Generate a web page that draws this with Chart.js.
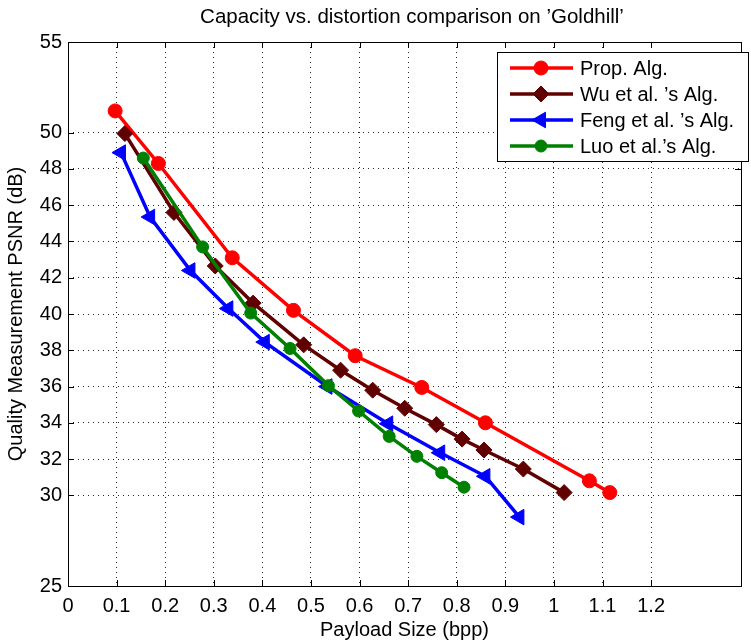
<!DOCTYPE html>
<html>
<head>
<meta charset="utf-8">
<script src="https://cdn.jsdelivr.net/npm/chart.js@4/dist/chart.umd.min.js"></script>
<style>
  html, body { margin: 0; padding: 0; background: #fff; }
</style>
</head>
<body>
<canvas id="chart" width="751" height="644"></canvas>
<script>
// tick labels
const xTicks = [0, 0.1, 0.2, 0.3, 0.4, 0.5, 0.6, 0.7, 0.8, 0.9, 1, 1.1, 1.2];
const yTicks = [25, 30, 32, 34, 36, 38, 40, 42, 44, 46, 48, 50, 55];

// series values
const propX = [0.097, 0.186, 0.338, 0.464, 0.591, 0.728, 0.859, 1.073, 1.115];
const propY = [51.2, 48.3, 43.1, 40.2, 37.7, 35.95, 34.0, 30.8, 30.15];

const wuX = [0.117, 0.218, 0.303, 0.381, 0.485, 0.561, 0.627, 0.693, 0.758, 0.811, 0.856, 0.937, 1.021];
const wuY = [49.95, 45.6, 42.65, 40.6, 38.3, 36.9, 35.8, 34.8, 33.9, 33.1, 32.5, 31.45, 30.15];

const fengX = [0.109, 0.169, 0.252, 0.330, 0.405, 0.534, 0.659, 0.766, 0.859, 0.929];
const fengY = [48.9, 45.35, 42.4, 40.3, 38.45, 36.0, 33.95, 32.35, 31.05, 28.8];

const luoX = [0.155, 0.277, 0.376, 0.457, 0.536, 0.598, 0.661, 0.718, 0.769, 0.815];
const luoY = [48.6, 43.7, 40.05, 38.1, 36.05, 34.65, 33.25, 32.15, 31.25, 30.45];

const FONT = 'Liberation Sans, Arial, Helvetica, sans-serif';

function pts(xs, ys) {
    return xs.map((x, i) => ({ x: x, y: ys[i] }));
}

function series(label, xs, ys, color, style, radius, rotation, order) {
    return {
        label: label,
        data: pts(xs, ys),
        borderColor: color,
        backgroundColor: color,
        borderWidth: 3.5,
        pointStyle: style,
        pointRadius: radius,
        pointRotation: rotation,
        pointBackgroundColor: color,
        pointBorderColor: color,
        pointBorderWidth: 1,
        tension: 0,
        order: order
    };
}

// frame, inner tick marks, title and legend box like the original figure
const figurePlugin = {
    id: 'figure',
    afterDraw(chart) {
        const ctx = chart.ctx;
        const a = chart.chartArea;
        const xs = chart.scales.x;
        const ys = chart.scales.y;
        ctx.save();
        ctx.strokeStyle = '#000';
        ctx.lineWidth = 1;
        ctx.strokeRect(Math.round(a.left) + 0.5, Math.round(a.top) + 0.5,
            Math.round(a.right - a.left), Math.round(a.bottom - a.top));

        const len = 6;
        ctx.beginPath();
        xTicks.forEach(v => {
            const px = Math.round(xs.getPixelForValue(v)) + 0.5;
            ctx.moveTo(px, a.top); ctx.lineTo(px, a.top + len);
            ctx.moveTo(px, a.bottom); ctx.lineTo(px, a.bottom - len);
        });
        yTicks.forEach(v => {
            const py = Math.round(ys.getPixelForValue(v)) + 0.5;
            ctx.moveTo(a.left, py); ctx.lineTo(a.left + len, py);
            ctx.moveTo(a.right, py); ctx.lineTo(a.right - len, py);
        });
        ctx.stroke();

        // title
        ctx.fillStyle = '#000';
        ctx.font = '20.5px ' + FONT;
        ctx.textAlign = 'center';
        ctx.textBaseline = 'alphabetic';
        ctx.fillText('Capacity vs. distortion comparison on \u2019Goldhill\u2019', 412, 22.5);

        // legend
        const bx = 497, by = 52, bw = 251, bh = 109;
        ctx.fillStyle = '#fff';
        ctx.fillRect(bx, by, bw, bh);
        ctx.strokeRect(bx + 0.5, by + 0.5, bw, bh);
        chart.data.datasets.forEach((ds, i) => {
            const y = 68 + i * 26;
            ctx.strokeStyle = ds.borderColor;
            ctx.lineWidth = ds.borderWidth;
            ctx.beginPath();
            ctx.moveTo(510, y);
            ctx.lineTo(573, y);
            ctx.stroke();
            ctx.fillStyle = ds.pointBackgroundColor;
            ctx.strokeStyle = ds.pointBorderColor;
            ctx.lineWidth = ds.pointBorderWidth;
            Chart.helpers.drawPoint(ctx, {
                pointStyle: ds.pointStyle,
                radius: ds.pointRadius,
                rotation: ds.pointRotation,
                borderWidth: ds.pointBorderWidth
            }, 541, y);
            ctx.fillStyle = '#000';
            ctx.font = '20px ' + FONT;
            ctx.textAlign = 'left';
            ctx.textBaseline = 'alphabetic';
            ctx.fillText(ds.label, 580, y + 7);
        });
        ctx.restore();
    }
};

new Chart(document.querySelector('#chart').getContext('2d'), {
    type: 'line',
    data: {
        datasets: [
            series('Prop. Alg.', propX, propY, '#ff0000', 'circle', 7, 0, 4),
            series('Wu et al. \u2019s Alg.', wuX, wuY, '#600000', 'rectRot', 8, 0, 3),
            series('Feng et al. \u2019s Alg.', fengX, fengY, '#0000ff', 'triangle', 9, -90, 2),
            series('Luo et al.\u2019s Alg.', luoX, luoY, '#008000', 'circle', 6, 0, 1)
        ]
    },
    options: {
        responsive: false,
        animation: false,
        layout: { padding: { top: 42, right: 3, left: 0, bottom: 0 } },
        plugins: {
            legend: { display: false },
            title: { display: false },
            tooltip: { enabled: false }
        },
        scales: {
            x: {
                type: 'linear',
                min: 0,
                max: 1.385,
                afterBuildTicks: scale => { scale.ticks = xTicks.map(v => ({ value: v })); },
                afterFit: scale => { scale.height = 58; },
                ticks: {
                    color: '#000',
                    font: { size: 20, family: FONT },
                    padding: 8,
                    maxRotation: 0,
                    autoSkip: false,
                    callback: v => String(v)
                },
                grid: { color: 'rgba(0,0,0,0.85)', lineWidth: 1, drawTicks: false },
                border: { display: false, dash: [1, 4] },
                title: {
                    display: true,
                    text: 'Payload Size (bpp)',
                    color: '#000',
                    font: { size: 20, family: FONT },
                    padding: { top: 0, bottom: 2 }
                }
            },
            y: {
                type: 'linear',
                min: 25,
                max: 55,
                afterBuildTicks: scale => { scale.ticks = yTicks.map(v => ({ value: v })); },
                afterFit: scale => { scale.width = 68; },
                ticks: {
                    color: '#000',
                    font: { size: 20, family: FONT },
                    padding: 6,
                    autoSkip: false
                },
                grid: { color: 'rgba(0,0,0,0.85)', lineWidth: 1, drawTicks: false },
                border: { display: false, dash: [1, 4] },
                title: {
                    display: true,
                    text: 'Quality Measurement PSNR (dB)',
                    color: '#000',
                    font: { size: 20, family: FONT },
                    padding: { top: 4, bottom: 0 }
                }
            }
        }
    },
    plugins: [figurePlugin]
});
</script>
</body>
</html>
